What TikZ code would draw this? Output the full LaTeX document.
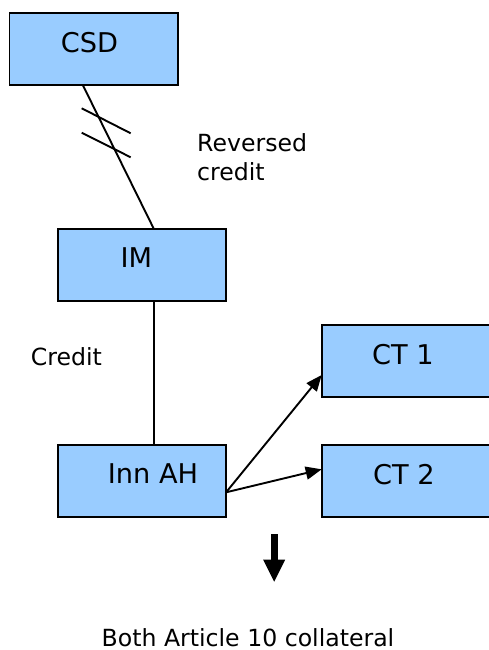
\documentclass[tikz,border=0pt]{standalone}
\usepackage{fontspec}
\setmainfont{DejaVu Sans}
\usetikzlibrary{arrows.meta}
\definecolor{boxblue}{HTML}{99CCFF}
\tikzset{
  party/.style={draw=black, line width=1.8pt, fill=boxblue, rectangle,
    minimum width=168.5pt, minimum height=72pt, inner sep=0pt, outer sep=0pt},
  boxtext/.style={anchor=base, inner sep=0pt, font=\fontsize{27.2}{32}\selectfont},
  note/.style={inner sep=0pt, font=\fontsize{23.6}{29}\selectfont},
  link/.style={draw=black, line width=1.9pt},
  flow/.style={link, -{Triangle[length=16pt,width=13pt]}},
  bigarrow/.style={draw=black, line width=7.3pt, -{Triangle[length=22pt,width=22pt,line width=0pt]}}
}
\begin{document}
\begin{tikzpicture}[x=1pt, y=-1pt]
  \useasboundingbox (0,0) rectangle (488,650);

  % boxes
  \node[party] (csd)   at (93.75,48.8)  {};
  \node[party] (im)    at (141.85,265.2) {};
  \node[party] (innah) at (141.85,481.2) {};
  \node[party] (ct1)   at (405.95,361.2) {};
  \node[party] (ct2)   at (405.95,481.2) {};

  % box captions
  \node[boxtext] (csdtxt)   at (89.5,52.3)  {CSD};
  \node[boxtext] (imtxt)    at (136.3,267.7) {IM};
  \node[boxtext] (innahtxt) at (153,483.3)  {Inn AH};
  \node[boxtext] (ct1txt)   at (403,364)    {CT 1};
  \node[boxtext] (ct2txt)   at (403.8,484)  {CT 2};

  % CSD -- IM, crossed twice
  \draw[link] (csd.south -| 82.7,0) -- (im.north -| 154,0);
  \coordinate (sa1) at (81.7,108.3);
  \coordinate (sa2) at (130.7,133.3);
  \coordinate (sb1) at (81.7,132.7);
  \coordinate (sb2) at (130.7,157.3);
  \draw[link] (sa1) -- (sa2);
  \draw[link] (sb1) -- (sb2);

  % IM -- Inn AH
  \draw[link] (im.south -| 154.3,0) -- (innah.north -| 154.3,0);

  % Inn AH to the two CTs
  \draw[flow] ([yshift=-11.1pt]innah.east) -- ([yshift=-13.8pt]ct1.west);
  \draw[flow] ([yshift=-11.1pt]innah.east) -- ([yshift=11.9pt]ct2.west);

  % labels
  \node[note, anchor=base west, align=left] (rev) at (197,180.7) {Reversed\\credit};
  \node[note, anchor=base east] (cred) at (102,365.7) {Credit};

  % result arrow and caption
  \coordinate (dtop) at (274.2,534);
  \coordinate (dtip) at (274.2,581.7);
  \draw[bigarrow] (dtop) -- (dtip);
  \node[note, anchor=base] (both) at (248,646.4) {Both Article 10 collateral};
\end{tikzpicture}
\end{document}
